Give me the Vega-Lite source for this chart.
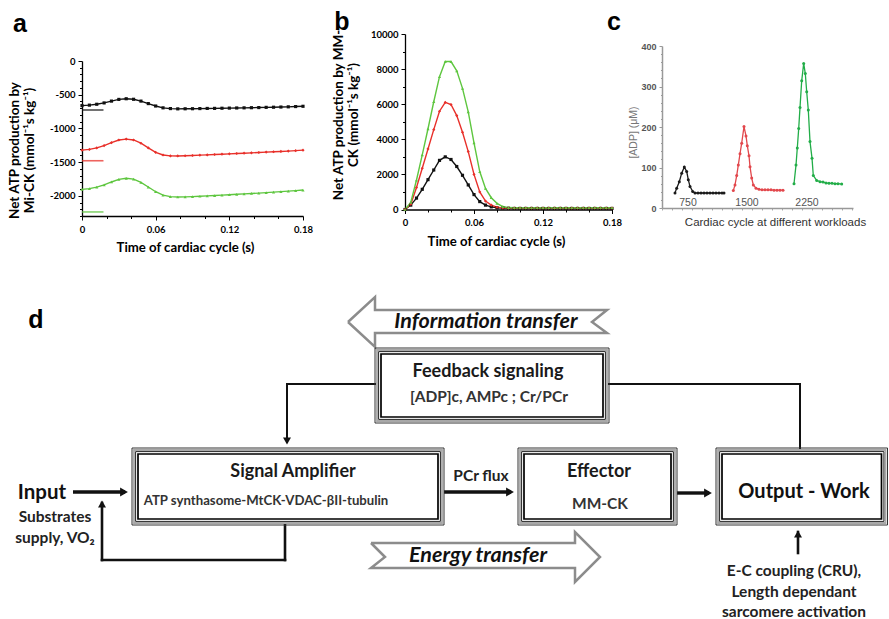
{
"$schema":"https://vega.github.io/schema/vega-lite/v6.json",
"width":889,"height":619,"autosize":"none","padding":0,"background":"white",
"config":{"view":{"stroke":null},"axis":{"grid":false},"text":{"align":"center","baseline":"middle"}},
"datasets":{
"mi":[
{"s":"750","t":0,"v":-662},{"s":"750","t":0.006,"v":-655},{"s":"750","t":0.012,"v":-642},{"s":"750","t":0.018,"v":-622},{"s":"750","t":0.024,"v":-595},{"s":"750","t":0.03,"v":-570},{"s":"750","t":0.036,"v":-560},{"s":"750","t":0.042,"v":-568},{"s":"750","t":0.048,"v":-595},{"s":"750","t":0.054,"v":-632},{"s":"750","t":0.06,"v":-668},{"s":"750","t":0.066,"v":-695},{"s":"750","t":0.072,"v":-706},{"s":"750","t":0.078,"v":-710},{"s":"750","t":0.084,"v":-709},{"s":"750","t":0.09,"v":-708},{"s":"750","t":0.096,"v":-706},{"s":"750","t":0.102,"v":-704},{"s":"750","t":0.108,"v":-703},{"s":"750","t":0.114,"v":-701},{"s":"750","t":0.12,"v":-699},{"s":"750","t":0.126,"v":-697},{"s":"750","t":0.132,"v":-695},{"s":"750","t":0.138,"v":-693},{"s":"750","t":0.144,"v":-691},{"s":"750","t":0.15,"v":-688},{"s":"750","t":0.156,"v":-686},{"s":"750","t":0.162,"v":-683},{"s":"750","t":0.168,"v":-680},{"s":"750","t":0.174,"v":-676},{"s":"750","t":0.18,"v":-672},
{"s":"1500","t":0,"v":-1323},{"s":"1500","t":0.006,"v":-1312},{"s":"1500","t":0.012,"v":-1290},{"s":"1500","t":0.018,"v":-1255},{"s":"1500","t":0.024,"v":-1212},{"s":"1500","t":0.03,"v":-1172},{"s":"1500","t":0.036,"v":-1159},{"s":"1500","t":0.042,"v":-1172},{"s":"1500","t":0.048,"v":-1220},{"s":"1500","t":0.054,"v":-1290},{"s":"1500","t":0.06,"v":-1355},{"s":"1500","t":0.066,"v":-1395},{"s":"1500","t":0.072,"v":-1408},{"s":"1500","t":0.078,"v":-1409},{"s":"1500","t":0.084,"v":-1406},{"s":"1500","t":0.09,"v":-1402},{"s":"1500","t":0.096,"v":-1397},{"s":"1500","t":0.102,"v":-1393},{"s":"1500","t":0.108,"v":-1388},{"s":"1500","t":0.114,"v":-1383},{"s":"1500","t":0.12,"v":-1378},{"s":"1500","t":0.126,"v":-1373},{"s":"1500","t":0.132,"v":-1368},{"s":"1500","t":0.138,"v":-1363},{"s":"1500","t":0.144,"v":-1358},{"s":"1500","t":0.15,"v":-1352},{"s":"1500","t":0.156,"v":-1347},{"s":"1500","t":0.162,"v":-1342},{"s":"1500","t":0.168,"v":-1337},{"s":"1500","t":0.174,"v":-1330},{"s":"1500","t":0.18,"v":-1323},
{"s":"2250","t":0,"v":-1905},{"s":"2250","t":0.006,"v":-1894},{"s":"2250","t":0.012,"v":-1872},{"s":"2250","t":0.018,"v":-1838},{"s":"2250","t":0.024,"v":-1795},{"s":"2250","t":0.03,"v":-1757},{"s":"2250","t":0.036,"v":-1741},{"s":"2250","t":0.042,"v":-1752},{"s":"2250","t":0.048,"v":-1800},{"s":"2250","t":0.054,"v":-1870},{"s":"2250","t":0.06,"v":-1940},{"s":"2250","t":0.066,"v":-1990},{"s":"2250","t":0.072,"v":-2012},{"s":"2250","t":0.078,"v":-2018},{"s":"2250","t":0.084,"v":-2016},{"s":"2250","t":0.09,"v":-2012},{"s":"2250","t":0.096,"v":-2007},{"s":"2250","t":0.102,"v":-2001},{"s":"2250","t":0.108,"v":-1996},{"s":"2250","t":0.114,"v":-1990},{"s":"2250","t":0.12,"v":-1984},{"s":"2250","t":0.126,"v":-1978},{"s":"2250","t":0.132,"v":-1972},{"s":"2250","t":0.138,"v":-1966},{"s":"2250","t":0.144,"v":-1960},{"s":"2250","t":0.15,"v":-1953},{"s":"2250","t":0.156,"v":-1946},{"s":"2250","t":0.162,"v":-1939},{"s":"2250","t":0.168,"v":-1931},{"s":"2250","t":0.174,"v":-1923},{"s":"2250","t":0.18,"v":-1915}
],
"miref":[{"s":"750","t":0,"t2":0.0175,"v":-727},{"s":"1500","t":0,"t2":0.0175,"v":-1480},{"s":"2250","t":0,"t2":0.0175,"v":-2240}],
"mm":[
{"s":"750","t":0,"v":0},{"s":"750","t":0.005,"v":250},{"s":"750","t":0.01,"v":650},{"s":"750","t":0.015,"v":1150},{"s":"750","t":0.02,"v":1700},{"s":"750","t":0.025,"v":2250},{"s":"750","t":0.03,"v":2800},{"s":"750","t":0.035,"v":3000},{"s":"750","t":0.04,"v":2850},{"s":"750","t":0.045,"v":2450},{"s":"750","t":0.05,"v":1950},{"s":"750","t":0.055,"v":1400},{"s":"750","t":0.06,"v":850},{"s":"750","t":0.065,"v":450},{"s":"750","t":0.07,"v":250},{"s":"750","t":0.075,"v":150},{"s":"750","t":0.08,"v":100},{"s":"750","t":0.085,"v":80},{"s":"750","t":0.09,"v":70},{"s":"750","t":0.095,"v":60},{"s":"750","t":0.1,"v":60},{"s":"750","t":0.105,"v":60},{"s":"750","t":0.11,"v":60},{"s":"750","t":0.115,"v":60},{"s":"750","t":0.12,"v":60},{"s":"750","t":0.125,"v":60},{"s":"750","t":0.13,"v":60},{"s":"750","t":0.135,"v":60},{"s":"750","t":0.14,"v":60},{"s":"750","t":0.145,"v":60},{"s":"750","t":0.15,"v":60},{"s":"750","t":0.155,"v":60},{"s":"750","t":0.16,"v":60},{"s":"750","t":0.165,"v":60},{"s":"750","t":0.17,"v":60},{"s":"750","t":0.175,"v":60},{"s":"750","t":0.18,"v":60},
{"s":"1500","t":0,"v":0},{"s":"1500","t":0.005,"v":300},{"s":"1500","t":0.01,"v":1250},{"s":"1500","t":0.015,"v":2350},{"s":"1500","t":0.02,"v":3450},{"s":"1500","t":0.025,"v":4550},{"s":"1500","t":0.03,"v":5600},{"s":"1500","t":0.035,"v":6100},{"s":"1500","t":0.04,"v":5980},{"s":"1500","t":0.045,"v":5350},{"s":"1500","t":0.05,"v":4400},{"s":"1500","t":0.055,"v":3300},{"s":"1500","t":0.06,"v":2000},{"s":"1500","t":0.065,"v":1000},{"s":"1500","t":0.07,"v":480},{"s":"1500","t":0.075,"v":250},{"s":"1500","t":0.08,"v":130},{"s":"1500","t":0.085,"v":90},{"s":"1500","t":0.09,"v":80},{"s":"1500","t":0.095,"v":80},{"s":"1500","t":0.1,"v":80},{"s":"1500","t":0.105,"v":80},{"s":"1500","t":0.11,"v":80},{"s":"1500","t":0.115,"v":80},{"s":"1500","t":0.12,"v":80},{"s":"1500","t":0.125,"v":80},{"s":"1500","t":0.13,"v":80},{"s":"1500","t":0.135,"v":80},{"s":"1500","t":0.14,"v":80},{"s":"1500","t":0.145,"v":80},{"s":"1500","t":0.15,"v":80},{"s":"1500","t":0.155,"v":80},{"s":"1500","t":0.16,"v":80},{"s":"1500","t":0.165,"v":80},{"s":"1500","t":0.17,"v":80},{"s":"1500","t":0.175,"v":80},{"s":"1500","t":0.18,"v":80},
{"s":"2250","t":0,"v":0},{"s":"2250","t":0.005,"v":400},{"s":"2250","t":0.01,"v":1680},{"s":"2250","t":0.015,"v":3110},{"s":"2250","t":0.02,"v":4600},{"s":"2250","t":0.025,"v":6140},{"s":"2250","t":0.03,"v":7570},{"s":"2250","t":0.035,"v":8430},{"s":"2250","t":0.04,"v":8430},{"s":"2250","t":0.045,"v":7900},{"s":"2250","t":0.05,"v":6900},{"s":"2250","t":0.055,"v":5560},{"s":"2250","t":0.06,"v":3790},{"s":"2250","t":0.065,"v":2160},{"s":"2250","t":0.07,"v":1200},{"s":"2250","t":0.075,"v":670},{"s":"2250","t":0.08,"v":350},{"s":"2250","t":0.085,"v":170},{"s":"2250","t":0.09,"v":110},{"s":"2250","t":0.095,"v":100},{"s":"2250","t":0.1,"v":100},{"s":"2250","t":0.105,"v":100},{"s":"2250","t":0.11,"v":100},{"s":"2250","t":0.115,"v":100},{"s":"2250","t":0.12,"v":100},{"s":"2250","t":0.125,"v":100},{"s":"2250","t":0.13,"v":100},{"s":"2250","t":0.135,"v":100},{"s":"2250","t":0.14,"v":100},{"s":"2250","t":0.145,"v":100},{"s":"2250","t":0.15,"v":100},{"s":"2250","t":0.155,"v":100},{"s":"2250","t":0.16,"v":100},{"s":"2250","t":0.165,"v":100},{"s":"2250","t":0.17,"v":100},{"s":"2250","t":0.175,"v":100},{"s":"2250","t":0.18,"v":100}
],
"adp":[
{"s":"750","x":13,"v":37},{"s":"750","x":14.7,"v":49},{"s":"750","x":17.3,"v":65},{"s":"750","x":19.7,"v":86},{"s":"750","x":22.3,"v":101},{"s":"750","x":24.7,"v":90},{"s":"750","x":26.3,"v":70},{"s":"750","x":28,"v":53},{"s":"750","x":30.7,"v":41},{"s":"750","x":33,"v":37},{"s":"750","x":36,"v":37},{"s":"750","x":39,"v":37},{"s":"750","x":42,"v":37},{"s":"750","x":45,"v":37},{"s":"750","x":48,"v":37},{"s":"750","x":51,"v":37},{"s":"750","x":54,"v":37},{"s":"750","x":57,"v":37},{"s":"750","x":60,"v":37},{"s":"750","x":62,"v":37},
{"s":"1500","x":71.3,"v":43},{"s":"1500","x":73,"v":57},{"s":"1500","x":74.7,"v":80},{"s":"1500","x":76.3,"v":106},{"s":"1500","x":78,"v":134},{"s":"1500","x":79.7,"v":160},{"s":"1500","x":82,"v":201},{"s":"1500","x":84,"v":178},{"s":"1500","x":85.3,"v":154},{"s":"1500","x":87,"v":129},{"s":"1500","x":88,"v":102},{"s":"1500","x":89.7,"v":74},{"s":"1500","x":91.3,"v":57},{"s":"1500","x":94,"v":49},{"s":"1500","x":97,"v":46},{"s":"1500","x":100,"v":45},{"s":"1500","x":103,"v":45},{"s":"1500","x":106,"v":45},{"s":"1500","x":109,"v":45},{"s":"1500","x":112,"v":44},{"s":"1500","x":115,"v":44},{"s":"1500","x":118,"v":44},{"s":"1500","x":121,"v":44},
{"s":"2250","x":132,"v":60},{"s":"2250","x":134,"v":106},{"s":"2250","x":135.3,"v":148},{"s":"2250","x":136.7,"v":196},{"s":"2250","x":138,"v":248},{"s":"2250","x":139.7,"v":314},{"s":"2250","x":141.7,"v":357},{"s":"2250","x":143.3,"v":332},{"s":"2250","x":144.7,"v":287},{"s":"2250","x":146.3,"v":242},{"s":"2250","x":148,"v":164},{"s":"2250","x":150,"v":123},{"s":"2250","x":151.3,"v":80},{"s":"2250","x":154.7,"v":68},{"s":"2250","x":158,"v":65},{"s":"2250","x":161,"v":64},{"s":"2250","x":164,"v":62},{"s":"2250","x":167,"v":61},{"s":"2250","x":170,"v":61},{"s":"2250","x":173,"v":60},{"s":"2250","x":176,"v":60},{"s":"2250","x":179.7,"v":59}
],
"adplab":[{"label":"750","x":26,"v":13},{"label":"1500","x":85,"v":13},{"label":"2250","x":145,"v":13}],
"boxes":[
{"box":"feedback","x":375,"x2":609,"y":348,"y2":423},
{"box":"amplifier","x":132,"x2":444,"y":448,"y2":525},
{"box":"effector","x":518,"x2":677,"y":448,"y2":525},
{"box":"output","x":716,"x2":887.5,"y":448,"y2":525}
],
"bands":[
{"band":"information","i":0,"x":348,"y":322},{"band":"information","i":1,"x":375,"y":297},{"band":"information","i":2,"x":375,"y":310},{"band":"information","i":3,"x":607,"y":310},{"band":"information","i":4,"x":592,"y":322},{"band":"information","i":5,"x":607,"y":333},{"band":"information","i":6,"x":375,"y":333},{"band":"information","i":7,"x":375,"y":347},{"band":"information","i":8,"x":348,"y":322},
{"band":"energy","i":0,"x":371,"y":543},{"band":"energy","i":1,"x":575,"y":543},{"band":"energy","i":2,"x":575,"y":532},{"band":"energy","i":3,"x":600,"y":557},{"band":"energy","i":4,"x":575,"y":582},{"band":"energy","i":5,"x":575,"y":568},{"band":"energy","i":6,"x":371,"y":568},{"band":"energy","i":7,"x":385,"y":557},{"band":"energy","i":8,"x":371,"y":543}
],
"links":[
{"kind":"feedback","x":375,"y":384,"x2":287,"y2":384},
{"kind":"feedback","x":287,"y":384,"x2":287,"y2":442},
{"kind":"feedback","x":609,"y":384,"x2":800,"y2":384},
{"kind":"feedback","x":800,"y":384,"x2":800,"y2":448},
{"kind":"return","x":285,"y":525,"x2":285,"y2":560},
{"kind":"return","x":285,"y":560,"x2":102,"y2":560},
{"kind":"return","x":102,"y":560,"x2":102,"y2":503},
{"kind":"return","x":798,"y":553,"x2":798,"y2":532},
{"kind":"flow","x":73,"y":492,"x2":125,"y2":492},
{"kind":"flow","x":444,"y":492,"x2":511,"y2":492},
{"kind":"flow","x":677,"y":493,"x2":709,"y2":493}
],
"heads":[
{"dir":"right","x":124,"y":492},{"dir":"right","x":510,"y":492},{"dir":"right","x":708,"y":493},
{"dir":"down","x":287,"y":441},
{"dir":"up","x":102,"y":504},{"dir":"up","x":798,"y":534}
],
"labels":[
{"role":"panel","text":"a","x":20,"y":32},
{"role":"panel","text":"b","x":342,"y":30},
{"role":"panel","text":"c","x":614,"y":30},
{"role":"panel","text":"d","x":36,"y":328},
{"role":"band","text":"Information transfer","x":486,"y":322},
{"role":"band","text":"Energy transfer","x":478,"y":556},
{"role":"boxtitle","text":"Feedback signaling","x":488,"y":372},
{"role":"boxtitle","text":"Signal Amplifier","x":293,"y":472},
{"role":"boxtitle","text":"Effector","x":599,"y":472},
{"role":"boxsub","text":"[ADP]c, AMPc ; Cr/PCr","x":489,"y":397},
{"role":"boxsub","text":"MM-CK","x":600,"y":504},
{"role":"small","text":"ATP synthasome-MtCK-VDAC-βII-tubulin","x":266,"y":501},
{"role":"output","text":"Output - Work","x":804,"y":492},
{"role":"input","text":"Input","x":42,"y":493},
{"role":"note","text":"PCr flux","x":481,"y":476},
{"role":"note","text":"Substrates","x":55,"y":517},
{"role":"note","text":"supply,  VO₂","x":55,"y":538},
{"role":"note","text":"E-C coupling (CRU),","x":794,"y":571},
{"role":"note","text":"Length dependant","x":794,"y":592},
{"role":"note","text":"sarcomere activation","x":794,"y":612}
]
},
"layer":[
{
"data":{"name":"mi"},
"encoding":{
"x":{"field":"t","type":"quantitative","scale":{"domain":[0,0.18],"range":[82,303],"nice":false,"zero":false},
"axis":{"orient":"bottom","offset":-403,"values":[0,0.02,0.04,0.06,0.08,0.1,0.12,0.14,0.16,0.18],
"labelExpr":"abs(round(datum.value*100)) % 6 === 0 ? format(datum.value, '.2~f') : ''",
"tickSize":{"condition":{"test":"abs(round(datum.value*100)) % 6 === 0","value":4},"value":2.5},
"labelFont":"Lato","labelFontWeight":"bold","labelFontSize":9.5,"labelColor":"#000","labelPadding":4,
"domainColor":"#000","domainWidth":1.3,"tickColor":"#000","tickWidth":1,
"labelOverlap":false,"labelBound":false,"labelFlush":false,
"title":"Time of cardiac cycle (s)","titleFont":"Lato","titleFontWeight":"bold","titleFontSize":13.2,"titleColor":"#000","titlePadding":8,"titleX":185}},
"y":{"field":"v","type":"quantitative","scale":{"domain":[-2300,0],"range":[216,61],"nice":false,"zero":false},
"axis":{"orient":"left","offset":-82,"values":[0,-100,-200,-300,-400,-500,-600,-700,-800,-900,-1000,-1100,-1200,-1300,-1400,-1500,-1600,-1700,-1800,-1900,-2000,-2100,-2200,-2300],
"labelExpr":"datum.value % 500 === 0 ? '' + datum.value : ''",
"tickSize":{"condition":{"test":"datum.value % 500 === 0","value":4},"value":2.5},
"labelFont":"Lato","labelFontWeight":"bold","labelFontSize":9.5,"labelColor":"#000","labelPadding":3,
"domainColor":"#000","domainWidth":1.3,"tickColor":"#000","tickWidth":1,
"labelOverlap":false,"labelBound":false,"labelFlush":false,
"title":["Net ATP production by","Mi-CK (mmol⁻¹s kg⁻¹)"],"titleFont":"Lato","titleFontWeight":"bold","titleFontSize":13.5,"titleColor":"#000",
"titleX":-61,"titleY":150,"titleAngle":-90,"titleAlign":"center","titleBaseline":"bottom","titleLineHeight":15}},
"color":{"field":"s","type":"nominal","scale":{"domain":["750","1500","2250"],"range":["#111111","#e8302a","#5ec63f"]},"legend":null}
},
"layer":[
{"mark":{"type":"line","strokeWidth":1.4}},
{"mark":{"type":"point","filled":true,"size":10,"opacity":1},"encoding":{"shape":{"field":"s","type":"nominal","scale":{"domain":["750","1500","2250"],"range":["square","diamond","triangle-up"]},"legend":null}}},
{"data":{"name":"miref"},"mark":{"type":"rule","strokeWidth":1.6,"opacity":0.75},"encoding":{"x2":{"field":"t2"}}}
]
},
{
"data":{"name":"mm"},
"encoding":{
"x":{"field":"t","type":"quantitative","scale":{"domain":[0,0.18],"range":[405,612],"nice":false,"zero":false},
"axis":{"orient":"bottom","offset":-409.5,"values":[0,0.02,0.04,0.06,0.08,0.1,0.12,0.14,0.16,0.18],
"labelExpr":"abs(round(datum.value*100)) % 6 === 0 ? format(datum.value, '.2~f') : ''",
"tickSize":{"condition":{"test":"abs(round(datum.value*100)) % 6 === 0","value":4},"value":2.5},
"labelFont":"Lato","labelFontWeight":"bold","labelFontSize":9.5,"labelColor":"#000","labelPadding":4,
"domainColor":"#000","domainWidth":1.3,"tickColor":"#000","tickWidth":1,
"labelOverlap":false,"labelBound":false,"labelFlush":false,
"title":"Time of cardiac cycle (s)","titleFont":"Lato","titleFontWeight":"bold","titleFontSize":13.2,"titleColor":"#000","titlePadding":8,"titleX":496}},
"y":{"field":"v","type":"quantitative","scale":{"domain":[0,10000],"range":[209.5,34],"nice":false,"zero":false},
"axis":{"orient":"left","offset":-405,"values":[0,1000,2000,3000,4000,5000,6000,7000,8000,9000,10000],
"labelExpr":"datum.value % 2000 === 0 ? '' + datum.value : ''",
"tickSize":{"condition":{"test":"datum.value % 2000 === 0","value":4},"value":2.5},
"labelFont":"Lato","labelFontWeight":"bold","labelFontSize":9.5,"labelColor":"#000","labelPadding":3,
"domainColor":"#000","domainWidth":1.3,"tickColor":"#000","tickWidth":1,
"labelOverlap":false,"labelBound":false,"labelFlush":false,
"title":["Net ATP production by MM-","CK (mmol⁻¹s kg⁻¹)"],"titleFont":"Lato","titleFontWeight":"bold","titleFontSize":13.5,"titleColor":"#000",
"titleX":-60,"titleY":114.5,"titleAngle":-90,"titleAlign":"center","titleBaseline":"bottom","titleLineHeight":15}},
"color":{"field":"s","type":"nominal","scale":{"domain":["750","1500","2250"],"range":["#111111","#e8302a","#5ec63f"]},"legend":null}
},
"layer":[
{"mark":{"type":"line","strokeWidth":1.4}},
{"mark":{"type":"point","filled":true,"size":10,"opacity":1},"encoding":{"shape":{"field":"s","type":"nominal","scale":{"domain":["750","1500","2250"],"range":["square","diamond","triangle-up"]},"legend":null}}}
]
},
{
"data":{"name":"adp"},
"encoding":{
"x":{"field":"x","type":"quantitative","scale":{"domain":[0,191],"range":[662,853],"nice":false,"zero":false},
"axis":{"orient":"bottom","offset":-411,"values":[0,10,20,30,40,50,60,70,80,90,100,110,120,130,140,150,160,170,180,190],
"labels":false,"tickSize":2,"tickColor":"#aaa","tickWidth":1,"domainColor":"#999","domainWidth":1.5,
"title":"Cardiac cycle at different workloads","titleFont":"Liberation Sans","titleFontWeight":"normal","titleFontSize":11.5,"titleColor":"#333","titlePadding":6,"titleX":775}},
"y":{"field":"v","type":"quantitative","scale":{"domain":[0,400],"range":[208,46],"nice":false,"zero":false},
"axis":{"orient":"left","offset":-662,"values":[0,20,40,60,80,100,120,140,160,180,200,220,240,260,280,300,320,340,360,380,400],
"labelExpr":"datum.value % 100 === 0 ? '' + datum.value : ''",
"tickSize":{"condition":{"test":"datum.value % 100 === 0","value":3},"value":1.5},
"labelFont":"Liberation Sans","labelFontWeight":"bold","labelFontSize":9,"labelColor":"#555","labelPadding":3,
"domainColor":"#999","domainWidth":1.5,"tickColor":"#999","tickWidth":1,
"labelOverlap":false,"labelBound":false,"labelFlush":false,
"title":"[ADP] (μM)","titleFont":"Liberation Sans","titleFontWeight":"normal","titleFontSize":10.5,"titleColor":"#777",
"titleX":-24,"titleY":132,"titleAngle":-90,"titleAlign":"center","titleBaseline":"bottom"}},
"color":{"field":"s","type":"nominal","scale":{"domain":["750","1500","2250"],"range":["#1a1a1a","#e2474c","#22ad48"]},"legend":null}
},
"layer":[
{"mark":{"type":"line","strokeWidth":1.3}},
{"mark":{"type":"point","filled":true,"size":9,"opacity":1}},
{"data":{"name":"adplab"},"mark":{"type":"text","font":"Liberation Sans","fontSize":10.5},"encoding":{"text":{"field":"label"},"color":{"value":"#555"}}}
]
},
{
"encoding":{
"x":{"field":"x","type":"quantitative","scale":{"domain":[0,889],"range":[0,889],"nice":false,"zero":false},"axis":null},
"y":{"field":"y","type":"quantitative","scale":{"domain":[0,619],"range":[0,619],"nice":false,"zero":false},"axis":null}
},
"layer":[
{"data":{"name":"links"},"transform":[{"filter":"datum.kind === 'feedback'"}],"mark":{"type":"rule","color":"#111","strokeWidth":2,"strokeCap":"square"},"encoding":{"x2":{"field":"x2"},"y2":{"field":"y2"}}},
{"data":{"name":"links"},"transform":[{"filter":"datum.kind === 'return'"}],"mark":{"type":"rule","color":"#111","strokeWidth":2.6,"strokeCap":"square"},"encoding":{"x2":{"field":"x2"},"y2":{"field":"y2"}}},
{"data":{"name":"links"},"transform":[{"filter":"datum.kind === 'flow'"}],"mark":{"type":"rule","color":"#111","strokeWidth":3.4},"encoding":{"x2":{"field":"x2"},"y2":{"field":"y2"}}},
{"data":{"name":"heads"},"transform":[{"filter":"datum.dir === 'right'"}],"mark":{"type":"point","shape":"triangle-right","filled":true,"color":"#111","size":81,"opacity":1}},
{"data":{"name":"heads"},"transform":[{"filter":"datum.dir === 'down'"}],"mark":{"type":"point","shape":"triangle-down","filled":true,"color":"#111","size":64,"opacity":1}},
{"data":{"name":"heads"},"transform":[{"filter":"datum.dir === 'up'"}],"mark":{"type":"point","shape":"triangle-up","filled":true,"color":"#111","size":64,"opacity":1}},
{"data":{"name":"bands"},"mark":{"type":"line","color":"#8c8c8c","strokeWidth":2.5,"strokeJoin":"miter"},"encoding":{"detail":{"field":"band"},"order":{"field":"i","type":"quantitative"}}},
{"data":{"name":"boxes"},"mark":{"type":"rect","filled":false,"color":"#333","strokeWidth":1},"encoding":{"x2":{"field":"x2"},"y2":{"field":"y2"}}},
{"data":{"name":"boxes"},"mark":{"type":"rect","filled":false,"color":"#a8a8a8","strokeWidth":1.8,"xOffset":2,"x2Offset":-2,"yOffset":2,"y2Offset":-2},"encoding":{"x2":{"field":"x2"},"y2":{"field":"y2"}}},
{"data":{"name":"boxes"},"mark":{"type":"rect","filled":false,"color":"#222","strokeWidth":1,"xOffset":3.6,"x2Offset":-3.6,"yOffset":3.6,"y2Offset":-3.6},"encoding":{"x2":{"field":"x2"},"y2":{"field":"y2"}}},
{"data":{"name":"boxes"},"mark":{"type":"rect","filled":false,"color":"#000","strokeWidth":1.7,"xOffset":6,"x2Offset":-6,"yOffset":6,"y2Offset":-6},"encoding":{"x2":{"field":"x2"},"y2":{"field":"y2"}}},
{"data":{"name":"labels"},"transform":[{"filter":"datum.role === 'panel'"}],"mark":{"type":"text","font":"Liberation Sans","fontWeight":"bold","fontSize":25,"baseline":"alphabetic","color":"#000"},"encoding":{"text":{"field":"text"}}},
{"data":{"name":"labels"},"transform":[{"filter":"datum.role === 'band'"}],"mark":{"type":"text","font":"Lato","fontWeight":"bold","fontStyle":"italic","fontSize":21.5,"color":"#111"},"encoding":{"text":{"field":"text"}}},
{"data":{"name":"labels"},"transform":[{"filter":"datum.role === 'boxtitle'"}],"mark":{"type":"text","font":"Lato","fontWeight":"bold","fontSize":18,"color":"#1a1a1a"},"encoding":{"text":{"field":"text"}}},
{"data":{"name":"labels"},"transform":[{"filter":"datum.role === 'boxsub'"}],"mark":{"type":"text","font":"Lato","fontWeight":"bold","fontSize":15.5,"color":"#333"},"encoding":{"text":{"field":"text"}}},
{"data":{"name":"labels"},"transform":[{"filter":"datum.role === 'small'"}],"mark":{"type":"text","font":"Lato","fontWeight":"bold","fontSize":13.2,"color":"#333"},"encoding":{"text":{"field":"text"}}},
{"data":{"name":"labels"},"transform":[{"filter":"datum.role === 'output'"}],"mark":{"type":"text","font":"Lato","fontWeight":"bold","fontSize":20,"color":"#111"},"encoding":{"text":{"field":"text"}}},
{"data":{"name":"labels"},"transform":[{"filter":"datum.role === 'input'"}],"mark":{"type":"text","font":"Lato","fontWeight":"bold","fontSize":20.5,"color":"#111"},"encoding":{"text":{"field":"text"}}},
{"data":{"name":"labels"},"transform":[{"filter":"datum.role === 'note'"}],"mark":{"type":"text","font":"Lato","fontWeight":"bold","fontSize":15.5,"color":"#222"},"encoding":{"text":{"field":"text"}}}
]
}
],
"resolve":{"scale":{"x":"independent","y":"independent","color":"independent","shape":"independent"},"axis":{"x":"independent","y":"independent"}}
}
